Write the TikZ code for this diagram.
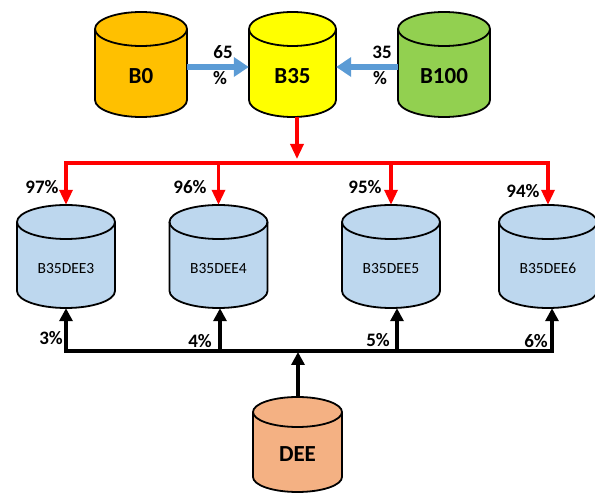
\documentclass[tikz,border=0pt]{standalone}
\usepackage{fontspec}
\setmainfont{Carlito}
\usetikzlibrary{arrows.meta,calc}

\definecolor{cOrange}{HTML}{FFC000}
\definecolor{cYellow}{HTML}{FFFF00}
\definecolor{cGreen}{HTML}{92D050}
\definecolor{cPale}{HTML}{BDD7EE}
\definecolor{cPeach}{HTML}{F4B183}
\definecolor{cBlue}{HTML}{5B9BD5}
\definecolor{cRed}{HTML}{FF0000}

\tikzset{
  drumline/.style={line width=1.8pt, draw=black},
  bigname/.style={font=\bfseries\fontsize{23}{23}\selectfont},
  smallname/.style={font=\fontsize{15.5}{15.5}\selectfont},
  pct/.style={font=\bfseries\fontsize{19}{19}\selectfont, inner sep=0pt},
  feed/.style={line width=6.5pt, draw=cBlue, -{Triangle[width=19pt,length=15pt]}},
  split/.style={line width=3.3pt, draw=cRed, -{Triangle[width=13pt,length=15pt]}},
  dose/.style={line width=3.3pt, draw=black, -{Triangle[width=13pt,length=13pt]}},
}

% \drum{name}{cx}{top}{bottom}{rx}{ry}{fill}{label style}{label}
\newcommand\drum[9]{%
  \pgfmathsetmacro\dTop{#3-#6}%
  \pgfmathsetmacro\dBot{#4+#6}%
  \pgfmathsetmacro\dTxt{(#3-2*#6+#4)/2+5}%
  \filldraw[drumline, fill=#7] (#2-#5,\dTop) -- (#2-#5,\dBot)
    arc[start angle=180, end angle=360, x radius=#5, y radius=#6]
    -- (#2+#5,\dTop)
    arc[start angle=0, end angle=180, x radius=#5, y radius=#6] -- cycle;
  \draw[drumline] (#2-#5,\dTop)
    arc[start angle=180, end angle=360, x radius=#5, y radius=#6];
  \node[inner sep=0pt, minimum width=2*#5 pt, minimum height={(#3-#4)*1pt}]
    (#1) at (#2,{(#3+#4)/2}) {};
  \node[#8] at (#2,\dTxt) {#9};
}

\begin{document}
\begin{tikzpicture}[x=1pt, y=1pt]
  \useasboundingbox (0,0) rectangle (595,493);

  % source blends
  \drum{B0}{141}{481}{376}{46}{17}{cOrange}{bigname}{B0}
  \drum{B35}{292.5}{481}{376}{43.5}{17}{cYellow}{bigname}{B35}
  \drum{B100}{444}{481}{376}{46}{17}{cGreen}{bigname}{B100}

  % blended fuels
  \drum{B35DEE3}{66}{288}{185}{49}{17}{cPale}{smallname}{B35DEE3}
  \drum{B35DEE4}{218.5}{288}{185}{49}{17}{cPale}{smallname}{B35DEE4}
  \drum{B35DEE5}{391}{288}{185}{49}{17}{cPale}{smallname}{B35DEE5}
  \drum{B35DEE6}{548}{288}{185}{49}{17}{cPale}{smallname}{B35DEE6}

  % additive
  \drum{DEE}{297.5}{96}{1}{44.5}{15}{cPeach}{bigname}{DEE}

  % B0 and B100 into B35
  \draw[feed] ([yshift=-2.5pt]B0.east) -- ([yshift=-2.5pt]B35.west);
  \draw[feed] ([yshift=-2.5pt]B100.west) -- ([yshift=-2.5pt]B35.east);
  \node[pct] (p65) at (223,441) {65};
  \node[pct] (p65b) at (220,415) {\%};
  \node[pct] (p35) at (382,441) {35};
  \node[pct] (p35b) at (380,415) {\%};

  % B35 distribution (red)
  \coordinate (rsplit) at (297,330);
  \draw[split] (B35.south -| rsplit) -- ([yshift=4pt]rsplit);
  \draw[split] (rsplit) -| (B35DEE3.north);
  \draw[split] (rsplit) -| (B35DEE4.north);
  \draw[split] (rsplit) -| (B35DEE5.north);
  \draw[split] (rsplit) -| (B35DEE6.north);
  \node[pct] (r97) at (42,306) {97\%};
  \node[pct] (r96) at (190,306) {96\%};
  \node[pct] (r95) at (365,306) {95\%};
  \node[pct] (r94) at (523,302) {94\%};

  % DEE distribution (black)
  \coordinate (bsplit) at (298,142);
  \draw[dose] (DEE.north -| bsplit) -- ([yshift=-1pt]bsplit);
  \draw[dose] (bsplit) -| (B35DEE3.south);
  \draw[dose] (bsplit) -| ([xshift=1.5pt]B35DEE4.south);
  \draw[dose] (bsplit) -| ([xshift=6pt]B35DEE5.south);
  \draw[dose] (bsplit) -| ([xshift=4pt]B35DEE6.south);
  \node[pct] (k3) at (51,155) {3\%};
  \node[pct] (k4) at (200,152) {4\%};
  \node[pct] (k5) at (378,153) {5\%};
  \node[pct] (k6) at (536,152) {6\%};
\end{tikzpicture}
\end{document}
